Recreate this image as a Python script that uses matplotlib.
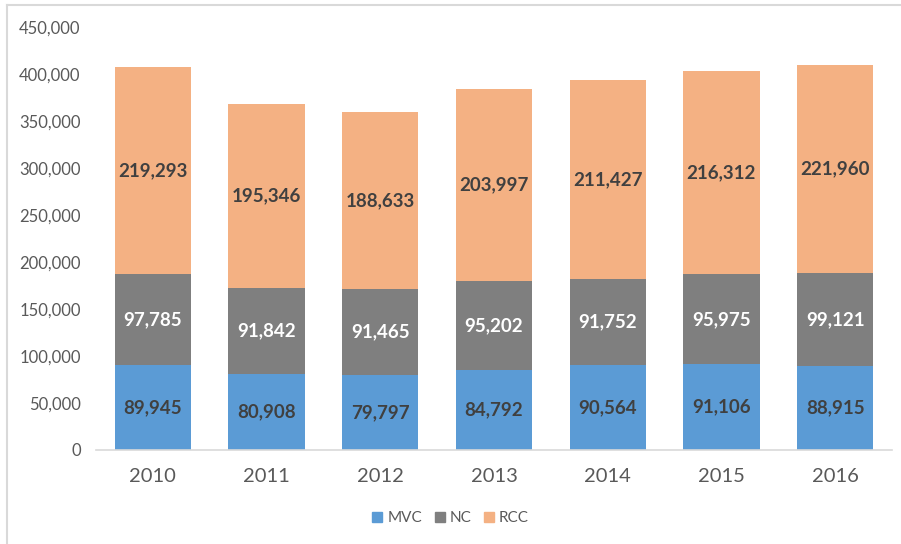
import matplotlib.pyplot as plt
import numpy as np
from matplotlib.lines import Line2D

plt.rcParams['font.family'] = ['Lato', 'DejaVu Sans']

years = ['2010', '2011', '2012', '2013', '2014', '2015', '2016']
mvc = [89945, 80908, 79797, 84792, 90564, 91106, 88915]
nc = [97785, 91842, 91465, 95202, 91752, 95975, 99121]
rcc = [219293, 195346, 188633, 203997, 211427, 216312, 221960]

series = [('MVC', mvc, '#5B9BD5', '#404040'),
          ('NC', nc, '#7F7F7F', 'white'),
          ('RCC', rcc, '#F4B183', '#404040')]

fig = plt.figure(figsize=(9.01, 5.44), dpi=100)
ax = fig.add_axes([96/901, 94/544, 796/901, 423/544])

x = np.arange(len(years))
bottom = np.zeros(len(years))
for name, vals, color, txt in series:
    vals = np.array(vals)
    ax.bar(x, vals, 0.67, bottom=bottom, color=color, label=name, zorder=2)
    for xi, b, v in zip(x, bottom, vals):
        ax.text(xi, b + v / 2, f'{v:,}', ha='center', va='center',
                fontsize=13.5, fontweight='bold', color=txt)
    bottom += vals

ax.set_xlim(-0.5, len(years) - 0.5)
ax.set_ylim(0, 450000)
ax.set_yticks(np.arange(0, 450001, 50000))
ax.set_yticklabels([f'{v:,}' for v in range(0, 450001, 50000)])
ax.set_xticks(x)
ax.set_xticklabels(years)
ax.tick_params(axis='y', length=0, pad=11, labelsize=12, labelcolor='#595959')
ax.tick_params(axis='x', length=0, pad=13, labelsize=14.5, labelcolor='#595959')
for side in ['top', 'right', 'left']:
    ax.spines[side].set_visible(False)
ax.spines['bottom'].set_color('#D9D9D9')
ax.spines['bottom'].set_linewidth(1.2)

handles = [Line2D([], [], marker='s', linestyle='none', markersize=7.5,
                  markerfacecolor=c, markeredgecolor=c) for _, _, c, _ in series]
fig.legend(handles, [s[0] for s in series], loc='center', bbox_to_anchor=(0.5, 1 - 518/544),
           ncol=3, frameon=False, fontsize=11, handlelength=0.7, handletextpad=0.3,
           columnspacing=0.8, labelcolor='#595959')

# chart frame
fig.add_artist(Line2D([7/901, 7/901], [0, 1 - 5/544], transform=fig.transFigure,
                      color='#D9D9D9', lw=1.5))
fig.add_artist(Line2D([7/901, 1], [1 - 5/544, 1 - 5/544], transform=fig.transFigure,
                      color='#D9D9D9', lw=1.5))

fig.savefig('out.png', dpi=100)
